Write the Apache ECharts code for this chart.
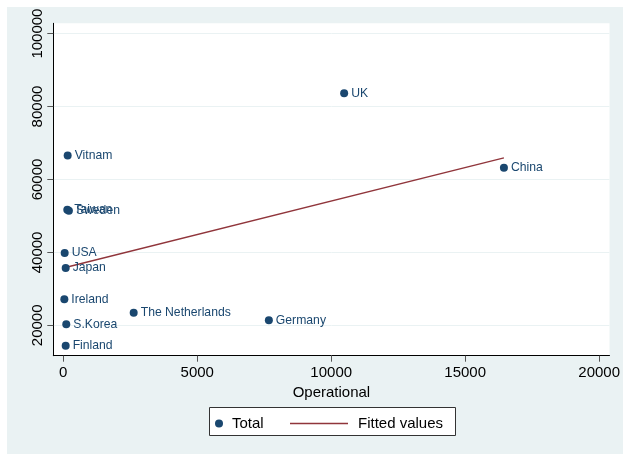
<!DOCTYPE html>
<html>
<head>
<meta charset="utf-8">
<script src="https://cdn.jsdelivr.net/npm/echarts@6/dist/echarts.min.js"></script>
<style>
  html, body { margin: 0; padding: 0; background: #ffffff; }
  #chart { width: 623px; height: 454px; }
</style>
</head>
<body>
<div id="chart"></div>
<script>
// Scatter of Total against Operational, one labelled point per country
const countries   = ['UK', 'China', 'Vitnam', 'Taiwan', 'Sweden', 'USA', 'Japan', 'Ireland', 'The Netherlands', 'Germany', 'S.Korea', 'Finland'];
const operational = [10483, 16446, 164, 150, 210, 52, 90, 40, 2628, 7673, 112, 90];
const total       = [83644, 63178, 66575, 51671, 51400, 39808, 35699, 27123, 23452, 21370, 20274, 14411];

// Linear fit endpoints (at the smallest and largest Operational value)
const fittedX = [40, 16446];
const fittedY = [35790, 65900];

// Axis tick positions
const xTicks = [0, 5000, 10000, 15000, 20000];
const yTicks = [20000, 40000, 60000, 80000, 100000];

const FONT = '"Liberation Sans", Arial, sans-serif';
const NAVY = '#1a476f';
const MAROON = '#90353b';
const BG = '#eaf2f3';

const chart = echarts.init(document.getElementById('chart'), null, { renderer: 'canvas' });

const scatterData = countries.map((c, i) => ({ name: c, value: [operational[i], total[i]] }));
const fitData = fittedX.map((x, i) => [x, fittedY[i]]);
const plain = v => String(v);

chart.setOption({
  animation: false,
  textStyle: { fontFamily: FONT },
  graphic: [
    { type: 'rect', z: -100, silent: true,
      shape: { x: 7, y: 7, width: 616, height: 447 },
      style: { fill: BG } },
    { type: 'rect', z: -50, silent: true,
      shape: { x: 209.5, y: 407.5, width: 246, height: 28 },
      style: { fill: '#ffffff', stroke: '#333333', lineWidth: 1 } }
  ],
  grid: {
    left: 53.3, top: 23.3, right: 11.3, bottom: 98.3,
    show: true, backgroundColor: '#ffffff', borderWidth: 0,
    containLabel: false
  },
  legend: [
    { data: ['Total'], left: 215, top: 416, padding: 0,
      itemWidth: 8, itemHeight: 8, icon: 'circle',
      textStyle: { fontFamily: FONT, fontSize: 15, color: '#000', padding: [0, 0, 0, 4] } },
    { data: ['Fitted values'], left: 290, top: 416, padding: 0,
      itemWidth: 58, itemHeight: 1.5, icon: 'rect',
      textStyle: { fontFamily: FONT, fontSize: 15, color: '#000', padding: [0, 0, 0, 5] } }
  ],
  xAxis: {
    type: 'value', min: -372, max: 20387,
    name: 'Operational', nameLocation: 'middle', nameGap: 29,
    nameTextStyle: { fontFamily: FONT, fontSize: 15, color: '#000' },
    axisLine: { show: true, onZero: false, lineStyle: { color: '#000', width: 1 } },
    axisTick: { show: true, length: 6, customValues: xTicks, lineStyle: { color: '#555' } },
    axisLabel: { customValues: xTicks, formatter: plain, fontFamily: FONT, fontSize: 15, color: '#000', margin: 10 },
    splitLine: { show: false }
  },
  yAxis: {
    type: 'value', min: 11671, max: 102822,
    axisLine: { show: true, onZero: false, lineStyle: { color: '#000', width: 1 } },
    axisTick: { show: true, length: 6, customValues: yTicks, lineStyle: { color: '#555' } },
    axisLabel: { customValues: yTicks, formatter: plain, rotate: 90, fontFamily: FONT, fontSize: 15, color: '#000', margin: 8 },
    splitLine: { show: true, lineStyle: { color: BG, width: 1 } }
  },
  series: [
    {
      name: 'Total', type: 'scatter', data: scatterData,
      symbol: 'circle', symbolSize: 8,
      itemStyle: { color: NAVY, opacity: 1 },
      label: { show: true, position: 'right', distance: 3, formatter: '{b}',
               fontFamily: FONT, fontSize: 12.2, color: NAVY },
      z: 3
    },
    {
      name: 'Fitted values', type: 'line', data: fitData,
      showSymbol: false, symbol: 'none',
      itemStyle: { color: MAROON },
      lineStyle: { color: MAROON, width: 1.3 },
      z: 2
    }
  ]
});
</script>
</body>
</html>
